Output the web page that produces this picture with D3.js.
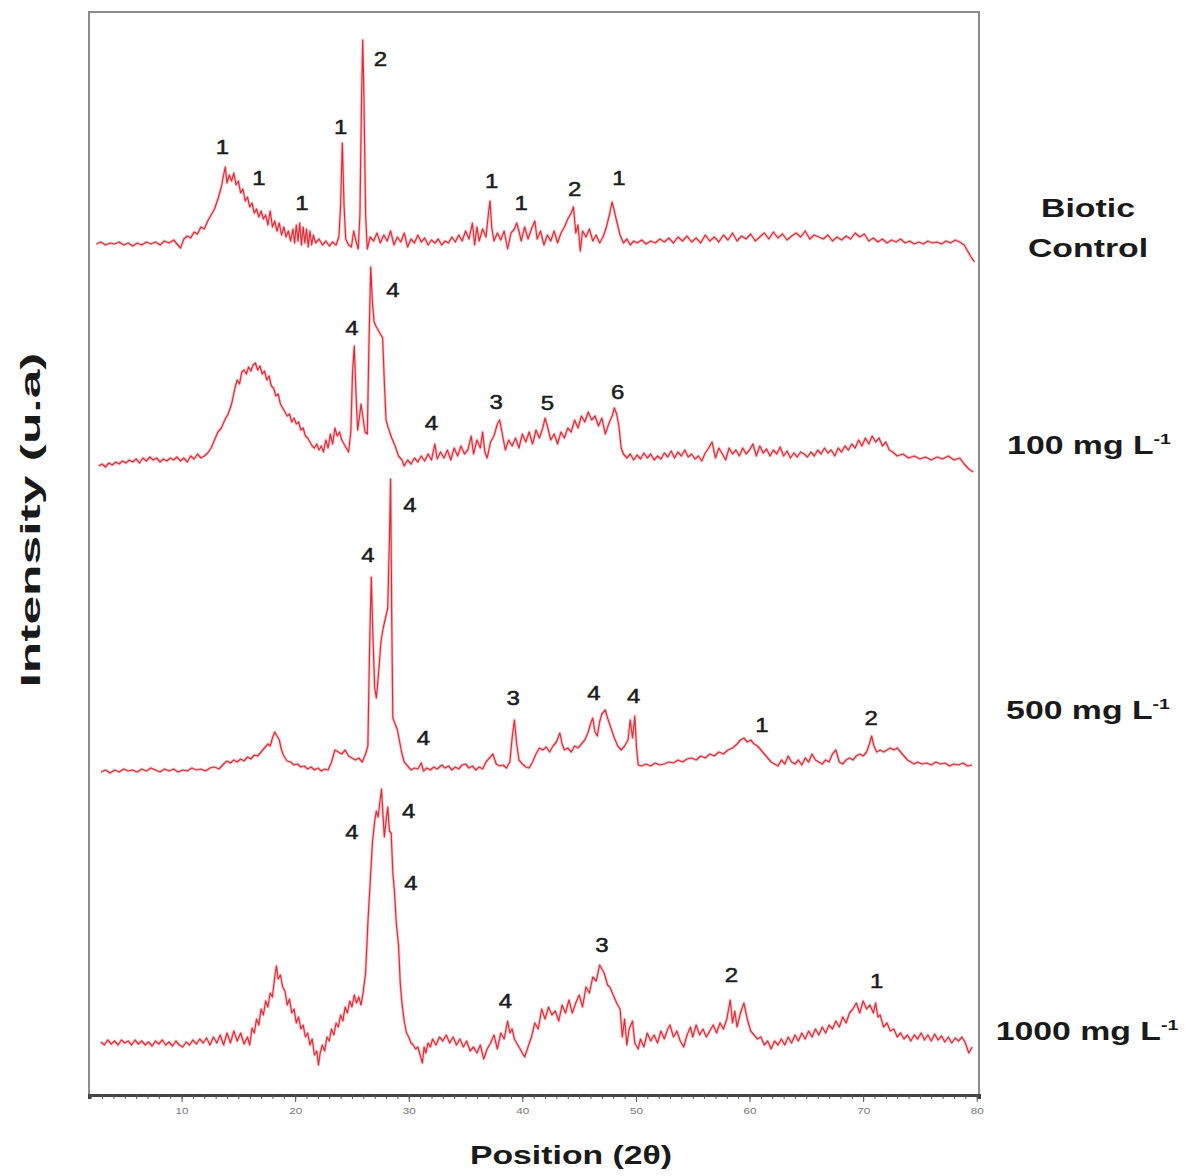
<!DOCTYPE html>
<html>
<head>
<meta charset="utf-8">
<script src="https://cdn.jsdelivr.net/npm/d3@7"></script>
<style>
  body { margin: 0; background: #fff; }
  svg { display: block; font-family: "Liberation Sans", Arial, sans-serif; }
</style>
</head>
<body>
<div id="grafica"></div>
<script>
// XRD patterns. Each point is [2theta, intensity above its own baseline]
var sampleNames = ["Biotic Control", "100 mg L-1", "500 mg L-1", "1000 mg L-1"];
// vertical stacking offset of each pattern (same units as intensity)
var offsets = [850, 633, 327, 52];

var bioticControl = [[2.5,1],[2.9,3],[3.3,0],[3.7,2],[4.1,1],[4.5,3],[4.9,0],[5.3,2],[5.7,-1],[6.1,2],[6.5,0],[6.9,3],[7.3,1],[7.7,3],[8.1,0],[8.5,4],[8.9,2],[9.3,5],[9.6,1],[9.9,-3],[10.2,6],[10.5,9],[10.8,7],[11.1,13],[11.4,11],[11.7,18],[12.0,16],[12.3,24],[12.6,30],[12.9,36],[13.2,46],[13.5,58],[13.7,70],[13.85,78],[14.0,62],[14.2,70],[14.4,64],[14.6,72],[14.8,60],[15.0,64],[15.2,52],[15.4,56],[15.6,44],[15.8,48],[16.0,38],[16.2,42],[16.4,32],[16.6,36],[16.8,28],[17.0,34],[17.2,26],[17.4,30],[17.6,20],[17.8,34],[18.0,18],[18.2,24],[18.4,14],[18.6,22],[18.8,10],[19.0,18],[19.2,8],[19.4,14],[19.6,4],[19.8,16],[19.95,2],[20.1,20],[20.25,4],[20.4,22],[20.55,0],[20.7,18],[20.85,2],[21.0,16],[21.15,-2],[21.3,14],[21.45,0],[21.6,10],[21.8,2],[22.1,6],[22.4,0],[22.7,4],[23.0,-1],[23.3,3],[23.6,0],[23.85,8],[24.0,40],[24.15,102],[24.3,40],[24.45,6],[24.7,0],[24.95,-2],[25.15,14],[25.35,4],[25.55,-4],[25.7,30],[25.85,150],[25.95,205],[26.05,150],[26.2,30],[26.35,-4],[26.6,8],[26.9,4],[27.2,12],[27.5,2],[27.8,10],[28.1,4],[28.4,14],[28.7,0],[29.0,8],[29.3,3],[29.6,12],[29.9,-2],[30.2,6],[30.5,2],[30.8,10],[31.1,3],[31.4,7],[31.7,0],[32.0,5],[32.3,2],[32.6,6],[32.9,0],[33.2,4],[33.5,2],[33.8,8],[34.1,3],[34.4,10],[34.7,4],[35.0,14],[35.3,6],[35.6,22],[35.8,0],[36.0,18],[36.2,4],[36.5,16],[36.8,8],[37.0,30],[37.15,44],[37.3,18],[37.5,4],[37.8,12],[38.1,5],[38.4,14],[38.7,-4],[39.0,12],[39.3,16],[39.5,22],[39.7,14],[39.9,4],[40.2,18],[40.5,6],[40.8,16],[41.1,24],[41.3,6],[41.6,14],[41.9,0],[42.2,10],[42.5,4],[42.8,14],[43.1,2],[43.4,12],[43.7,18],[44.0,26],[44.3,32],[44.5,38],[44.7,12],[44.9,20],[45.1,-6],[45.3,14],[45.6,8],[45.9,16],[46.2,4],[46.5,10],[46.8,2],[47.1,8],[47.4,18],[47.7,32],[47.9,43],[48.1,34],[48.3,24],[48.6,10],[48.9,2],[49.2,6],[49.5,0],[49.8,4],[50.1,2],[50.5,5],[50.9,1],[51.3,4],[51.7,2],[52.1,6],[52.5,3],[52.9,7],[53.3,2],[53.7,8],[54.1,4],[54.5,9],[54.9,3],[55.3,7],[55.7,2],[56.1,10],[56.5,4],[56.9,8],[57.3,3],[57.7,10],[58.1,5],[58.5,12],[58.9,4],[59.3,9],[59.7,6],[60.1,11],[60.5,4],[60.9,8],[61.3,12],[61.7,6],[62.1,13],[62.5,7],[62.9,11],[63.3,5],[63.7,9],[64.1,12],[64.5,8],[64.9,14],[65.3,6],[65.7,10],[66.1,8],[66.5,6],[66.9,10],[67.3,4],[67.7,8],[68.1,5],[68.5,9],[68.9,6],[69.3,12],[69.7,8],[70.1,11],[70.5,4],[70.9,7],[71.3,3],[71.7,6],[72.1,2],[72.5,5],[72.9,3],[73.3,6],[73.7,2],[74.1,4],[74.5,1],[74.9,3],[75.3,1],[75.7,4],[76.1,2],[76.5,3],[76.9,1],[77.3,4],[77.7,2],[78.1,5],[78.5,3],[78.9,0],[79.2,-6],[79.5,-12],[79.8,-17]];

var mg100 = [[2.7,-4],[3.0,-2],[3.3,-5],[3.6,-1],[3.9,-3],[4.2,0],[4.5,-2],[4.8,1],[5.1,-1],[5.4,2],[5.7,0],[6.0,3],[6.3,-1],[6.6,4],[6.9,1],[7.2,5],[7.5,2],[7.8,4],[8.1,0],[8.4,3],[8.7,1],[9.0,4],[9.3,2],[9.6,5],[9.9,1],[10.2,4],[10.5,0],[10.8,6],[11.1,3],[11.4,8],[11.7,4],[12.0,6],[12.3,9],[12.6,14],[12.9,22],[13.2,30],[13.5,34],[13.8,42],[14.1,48],[14.4,58],[14.7,74],[14.9,82],[15.1,78],[15.3,90],[15.5,92],[15.7,88],[15.9,95],[16.1,91],[16.3,97],[16.5,99],[16.7,92],[16.9,96],[17.1,88],[17.3,91],[17.5,82],[17.7,86],[17.9,76],[18.1,74],[18.3,66],[18.5,68],[18.7,58],[18.9,54],[19.1,50],[19.3,46],[19.5,48],[19.7,40],[19.9,44],[20.1,38],[20.3,40],[20.5,32],[20.7,34],[20.9,26],[21.1,24],[21.3,20],[21.5,16],[21.7,14],[21.9,18],[22.1,12],[22.3,16],[22.5,10],[22.7,22],[22.9,14],[23.1,28],[23.3,18],[23.5,34],[23.7,26],[23.9,30],[24.1,22],[24.3,18],[24.5,14],[24.7,10],[24.9,30],[25.05,90],[25.2,116],[25.35,70],[25.5,32],[25.65,44],[25.8,58],[25.95,46],[26.15,30],[26.35,28],[26.5,120],[26.65,195],[26.8,160],[26.95,140],[27.1,136],[27.3,132],[27.5,128],[27.7,124],[27.85,80],[28.0,42],[28.2,34],[28.5,24],[28.8,16],[29.1,6],[29.4,2],[29.6,-4],[29.9,2],[30.2,-2],[30.5,4],[30.8,0],[31.1,6],[31.4,1],[31.7,8],[32.0,2],[32.3,18],[32.5,3],[32.8,10],[33.1,4],[33.4,12],[33.7,2],[34.0,14],[34.3,6],[34.6,16],[34.9,8],[35.2,12],[35.5,26],[35.7,8],[36.0,22],[36.3,14],[36.5,30],[36.7,10],[36.9,4],[37.2,20],[37.5,26],[37.8,38],[38.0,42],[38.2,30],[38.5,12],[38.8,22],[39.1,16],[39.4,24],[39.7,14],[40.0,28],[40.3,20],[40.6,30],[40.9,18],[41.2,32],[41.5,24],[41.8,34],[42.0,44],[42.2,36],[42.5,22],[42.8,28],[43.1,18],[43.4,30],[43.7,24],[44.0,34],[44.3,30],[44.6,42],[44.9,34],[45.2,46],[45.5,40],[45.8,50],[46.1,42],[46.4,46],[46.7,36],[47.0,44],[47.3,28],[47.6,38],[47.9,46],[48.1,54],[48.3,48],[48.5,36],[48.7,14],[48.9,8],[49.2,4],[49.5,8],[49.8,2],[50.1,7],[50.4,3],[50.7,9],[51.0,4],[51.3,8],[51.6,2],[51.9,6],[52.2,3],[52.5,9],[52.8,5],[53.1,11],[53.4,4],[53.7,10],[54.0,6],[54.3,12],[54.6,5],[54.9,8],[55.2,3],[55.5,6],[55.8,1],[56.1,9],[56.4,14],[56.7,20],[57.0,4],[57.3,14],[57.6,8],[57.9,2],[58.2,14],[58.5,8],[58.8,12],[59.1,6],[59.4,14],[59.7,8],[60.0,12],[60.3,18],[60.6,6],[60.9,16],[61.2,9],[61.5,13],[61.8,6],[62.1,12],[62.4,8],[62.7,15],[63.0,6],[63.3,11],[63.6,4],[63.9,9],[64.2,5],[64.5,10],[64.8,8],[65.1,5],[65.4,10],[65.7,6],[66.0,12],[66.3,8],[66.6,14],[66.9,9],[67.2,12],[67.5,6],[67.8,14],[68.1,10],[68.4,16],[68.7,12],[69.0,18],[69.3,14],[69.6,22],[69.9,16],[70.2,24],[70.5,18],[70.8,26],[71.1,20],[71.4,24],[71.7,16],[72.0,20],[72.3,12],[72.6,10],[73.0,6],[73.5,8],[74.0,4],[74.5,6],[75.0,3],[75.5,5],[76.0,2],[76.5,5],[77.0,3],[77.5,6],[78.0,2],[78.5,4],[78.9,-2],[79.3,-7],[79.7,-10]];

var mg500 = [[2.9,-4],[3.3,-2],[3.7,-5],[4.1,-2],[4.5,-4],[4.9,-1],[5.3,-3],[5.7,-2],[6.1,-4],[6.5,-1],[6.9,-3],[7.3,0],[7.7,-2],[8.1,-4],[8.5,-1],[8.9,-3],[9.3,-1],[9.7,-4],[10.1,-2],[10.5,-3],[10.9,0],[11.3,-2],[11.7,-1],[12.1,-3],[12.5,0],[12.9,1],[13.3,-1],[13.7,4],[14.0,7],[14.3,5],[14.6,8],[14.9,6],[15.2,9],[15.5,7],[15.8,11],[16.1,9],[16.4,13],[16.7,12],[17.0,16],[17.3,20],[17.6,24],[17.8,22],[18.0,30],[18.2,36],[18.4,32],[18.6,28],[18.8,18],[19.0,12],[19.3,7],[19.6,6],[19.9,3],[20.2,4],[20.5,1],[20.8,2],[21.1,-1],[21.4,1],[21.7,-2],[22.0,0],[22.3,-3],[22.6,-1],[22.9,-2],[23.2,6],[23.5,18],[23.8,16],[24.1,14],[24.4,18],[24.7,12],[25.0,10],[25.3,8],[25.6,10],[25.9,6],[26.2,14],[26.4,22],[26.55,120],[26.7,191],[26.85,130],[27.0,80],[27.15,70],[27.35,96],[27.55,126],[27.75,140],[27.95,150],[28.15,160],[28.3,230],[28.4,289],[28.5,150],[28.6,50],[28.8,44],[29.0,38],[29.2,26],[29.4,14],[29.6,6],[29.9,2],[30.2,-2],[30.5,0],[30.8,-1],[31.1,5],[31.3,-3],[31.6,0],[31.9,-2],[32.2,1],[32.5,-1],[32.9,3],[33.2,0],[33.5,2],[33.8,-2],[34.1,1],[34.4,-1],[34.7,3],[35.0,4],[35.3,0],[35.6,2],[35.9,-2],[36.2,1],[36.5,-1],[36.8,6],[37.1,10],[37.4,14],[37.7,4],[38.0,2],[38.3,3],[38.6,0],[38.9,6],[39.1,30],[39.3,48],[39.5,24],[39.7,8],[40.0,4],[40.3,1],[40.6,0],[40.9,6],[41.2,14],[41.5,20],[41.8,18],[42.1,21],[42.4,16],[42.7,22],[43.0,26],[43.3,35],[43.5,24],[43.7,18],[44.0,20],[44.3,16],[44.6,22],[44.9,20],[45.2,24],[45.5,28],[45.8,36],[46.0,44],[46.2,50],[46.4,36],[46.6,32],[46.8,46],[47.0,54],[47.3,58],[47.5,50],[47.8,40],[48.1,30],[48.4,22],[48.7,18],[49.0,22],[49.3,28],[49.5,48],[49.7,30],[49.9,52],[50.05,20],[50.2,3],[50.5,2],[50.9,4],[51.3,2],[51.7,5],[52.1,3],[52.5,4],[52.9,6],[53.3,5],[53.7,8],[54.1,6],[54.5,9],[54.9,10],[55.3,8],[55.7,12],[56.1,10],[56.5,14],[56.9,12],[57.3,16],[57.7,14],[58.1,18],[58.5,20],[58.9,24],[59.2,28],[59.5,30],[59.8,26],[60.1,28],[60.4,24],[60.7,22],[61.0,18],[61.3,14],[61.6,10],[61.9,6],[62.2,4],[62.5,2],[62.8,8],[63.1,4],[63.4,12],[63.7,6],[64.0,4],[64.3,8],[64.6,3],[64.9,10],[65.2,6],[65.5,14],[65.8,8],[66.1,6],[66.4,4],[66.7,8],[67.0,6],[67.3,14],[67.6,18],[67.9,6],[68.2,4],[68.5,8],[68.8,10],[69.1,8],[69.4,12],[69.7,14],[70.0,12],[70.3,16],[70.55,24],[70.75,32],[70.95,22],[71.2,16],[71.5,18],[71.8,16],[72.1,18],[72.4,20],[72.7,18],[73.0,20],[73.3,16],[73.6,12],[73.9,8],[74.2,6],[74.5,4],[74.8,6],[75.2,4],[75.6,5],[76.0,3],[76.4,6],[76.8,4],[77.2,5],[77.6,2],[78.0,4],[78.4,3],[78.8,5],[79.2,2],[79.6,3]];

var mg1000 = [[2.9,1],[3.2,-2],[3.5,3],[3.8,-1],[4.1,2],[4.4,-2],[4.7,3],[5.0,0],[5.3,2],[5.6,-2],[5.9,3],[6.2,-1],[6.5,2],[6.8,-2],[7.1,1],[7.4,-3],[7.7,2],[8.0,-1],[8.3,3],[8.6,-2],[8.9,1],[9.2,-3],[9.5,2],[9.8,-2],[10.1,-4],[10.4,1],[10.7,-2],[11.0,3],[11.3,-1],[11.6,4],[11.9,0],[12.2,5],[12.5,-2],[12.8,6],[13.1,0],[13.4,8],[13.7,-2],[14.0,10],[14.3,0],[14.6,12],[14.9,2],[15.2,10],[15.5,-1],[15.8,6],[16.0,-2],[16.2,15],[16.4,10],[16.6,24],[16.8,18],[17.0,34],[17.2,28],[17.4,42],[17.6,36],[17.8,50],[18.0,46],[18.2,66],[18.35,77],[18.5,64],[18.7,68],[18.9,56],[19.1,52],[19.3,38],[19.5,44],[19.7,30],[19.9,34],[20.1,20],[20.3,26],[20.5,14],[20.7,18],[20.9,6],[21.1,10],[21.3,-2],[21.5,4],[21.7,-12],[21.9,-8],[22.05,-22],[22.2,-10],[22.4,-2],[22.6,-8],[22.8,6],[23.0,2],[23.2,14],[23.4,8],[23.6,20],[23.8,16],[24.0,28],[24.2,22],[24.4,36],[24.6,30],[24.8,42],[25.0,36],[25.2,48],[25.4,40],[25.6,46],[25.8,38],[26.0,52],[26.2,70],[26.4,120],[26.6,160],[26.8,200],[27.0,222],[27.15,232],[27.3,226],[27.45,240],[27.6,254],[27.7,234],[27.85,206],[28.0,222],[28.15,236],[28.3,212],[28.45,210],[28.6,170],[28.75,150],[28.9,120],[29.1,98],[29.25,60],[29.4,40],[29.6,22],[29.8,10],[30.0,6],[30.2,0],[30.4,-2],[30.6,-6],[30.8,-4],[31.0,-12],[31.2,-20],[31.35,-4],[31.5,-10],[31.7,0],[31.9,-4],[32.1,4],[32.4,-2],[32.7,6],[33.0,2],[33.3,8],[33.6,0],[33.9,6],[34.2,-2],[34.5,4],[34.8,-4],[35.1,2],[35.4,-8],[35.7,-4],[36.0,-10],[36.3,-2],[36.6,-16],[36.9,-6],[37.2,0],[37.5,8],[37.8,-6],[38.1,10],[38.4,4],[38.7,22],[38.9,10],[39.1,14],[39.3,4],[39.6,-2],[39.9,-8],[40.2,-14],[40.5,-4],[40.8,6],[41.1,20],[41.4,14],[41.7,34],[42.0,24],[42.3,36],[42.6,28],[42.9,32],[43.2,22],[43.5,38],[43.8,30],[44.1,43],[44.4,30],[44.7,40],[45.0,48],[45.3,36],[45.6,56],[45.9,50],[46.2,66],[46.5,62],[46.8,78],[47.0,74],[47.2,70],[47.5,58],[47.7,56],[48.0,48],[48.3,40],[48.6,34],[48.8,6],[49.0,24],[49.2,-2],[49.4,14],[49.7,22],[49.9,0],[50.2,-6],[50.4,4],[50.7,-4],[51.0,10],[51.3,2],[51.6,8],[51.9,0],[52.2,12],[52.5,4],[52.8,14],[53.0,18],[53.3,6],[53.6,12],[53.9,2],[54.2,-4],[54.5,8],[54.8,16],[55.0,6],[55.3,18],[55.6,8],[55.9,14],[56.2,6],[56.5,12],[56.8,18],[57.1,10],[57.4,20],[57.7,14],[58.0,24],[58.3,43],[58.5,20],[58.7,32],[58.9,16],[59.2,30],[59.5,40],[59.8,24],[60.1,12],[60.4,8],[60.7,4],[61.0,6],[61.3,-2],[61.6,2],[61.9,-6],[62.2,2],[62.5,-2],[62.8,4],[63.1,-2],[63.4,6],[63.7,0],[64.0,8],[64.3,2],[64.6,10],[64.9,4],[65.2,12],[65.5,6],[65.8,14],[66.1,8],[66.4,16],[66.7,10],[67.0,18],[67.3,14],[67.6,22],[67.9,16],[68.2,26],[68.5,20],[68.8,30],[69.1,34],[69.4,40],[69.7,30],[70.0,42],[70.3,34],[70.6,38],[70.9,30],[71.1,40],[71.3,26],[71.5,28],[71.8,16],[72.1,20],[72.4,12],[72.7,14],[73.0,6],[73.3,10],[73.6,4],[73.9,8],[74.2,2],[74.5,8],[74.8,4],[75.1,10],[75.4,3],[75.7,8],[76.0,2],[76.3,9],[76.6,3],[76.9,7],[77.2,1],[77.5,6],[77.8,0],[78.1,5],[78.4,2],[78.7,6],[79.0,0],[79.3,-10],[79.6,-4]];

// peak labels: [2theta, height above the baseline, phase number]
var peaksBiotic = [[13.6,98,"1"],[16.8,67,"1"],[20.6,42,"1"],[24.0,118,"1"],[27.5,186,"2"],[37.3,64,"1"],[39.9,42,"1"],[44.6,56,"2"],[48.5,67,"1"]];
var peaks100 = [[25.0,134,"4"],[28.6,172,"4"],[32.0,39,"4"],[37.7,60,"3"],[42.2,59,"5"],[48.4,70,"6"]];
var peaks500 = [[26.4,213,"4"],[30.1,263,"4"],[31.3,30,"4"],[39.2,70,"3"],[46.3,75,"4"],[49.8,72,"4"],[61.1,43,"1"],[70.7,50,"2"]];
var peaks1000 = [[25.0,211,"4"],[30.0,232,"4"],[30.2,160,"4"],[38.5,42,"4"],[47.0,98,"3"],[58.4,68,"2"],[71.2,62,"1"]];

var xTicks = [10, 20, 30, 40, 50, 60, 70, 80];

var patterns = [bioticControl, mg100, mg500, mg1000];
var peakSets = [peaksBiotic, peaks100, peaks500, peaks1000];

var width = 1188, height = 1176;
var stretch = 1.3; // the original figure is widened, text included

var svg = d3.select("#grafica")
    .append("svg")
    .attr("width", width)
    .attr("height", height);

var x = d3.scaleLinear().domain([1.85, 80.2]).range([89, 979]);
var y = d3.scaleLinear().domain([0, 1083]).range([1095, 12]);

// frame around the plot
svg.append("rect")
  .attr("x", 89).attr("y", 12)
  .attr("width", 890).attr("height", 1083)
  .attr("fill", "none")
  .attr("stroke", "#8c8c8c")
  .attr("stroke-width", 2);

// minor ticks every degree
var minor = d3.axisBottom(x).tickValues(d3.range(2, 81)).tickSize(4).tickFormat("");
svg.append("g")
  .attr("transform", "translate(0,1095)")
  .call(minor)
  .call(g => g.selectAll("line").attr("stroke", "#555"))
  .call(g => g.select(".domain").attr("stroke", "#444").attr("stroke-width", 3));

var xAxis = d3.axisBottom(x).tickValues(xTicks).tickSize(7).tickPadding(6);
svg.append("g")
  .attr("transform", "translate(0,1095)")
  .call(xAxis)
  .call(g => g.select(".domain").remove())
  .call(g => g.selectAll("line").attr("stroke", "#555"))
  .call(g => g.selectAll("text")
    .attr("font-size", 9)
    .attr("fill", "#777")
    .attr("transform", "scale(" + stretch + ",1)"));

// the patterns
var line = d3.line()
  .x(d => x(d[0]))
  .y(d => y(d[1]));

patterns.forEach(function (serie, i) {
  var pts = serie.map(d => [d[0], d[1] + offsets[i]]);
  svg.append("path")
    .attr("d", line(pts))
    .attr("fill", "none")
    .attr("stroke", "#f3a3a8")
    .attr("stroke-width", 3)
    .attr("stroke-opacity", 0.6)
    .attr("stroke-linejoin", "round");
  svg.append("path")
    .attr("d", line(pts))
    .attr("fill", "none")
    .attr("stroke", "#dc2d38")
    .attr("stroke-width", 1.2)
    .attr("stroke-linejoin", "round");
});

// peak numbers
peakSets.forEach(function (peaks, i) {
  svg.append("g").selectAll("text")
    .data(peaks)
    .join("text")
    .attr("transform", d => "translate(" + x(d[0]) + "," + y(d[1] + offsets[i]) + ") scale(1.2,1)")
    .attr("text-anchor", "middle")
    .attr("dy", "0.35em")
    .attr("font-size", 20)
    .attr("fill", "#1c1c1c")
    .attr("stroke", "#1c1c1c")
    .attr("stroke-width", 0.5)
    .text(d => d[2]);
});

// sample names on the right
function sampleLabel(lines, cx, baseY) {
  lines.forEach(function (txt, k) {
    var t = svg.append("text")
      .attr("transform", "translate(" + cx + "," + (baseY + k * 40) + ") scale(" + stretch + ",1)")
      .attr("text-anchor", "middle")
      .attr("font-size", 26)
      .attr("font-weight", "bold")
      .attr("fill", "#1a1a1a");
    var m = txt.match(/^(.*) L-1$/);
    if (m) {
      t.append("tspan").text(m[1] + " L");
      t.append("tspan").attr("font-size", 15).attr("dy", -10).text("-1");
    } else {
      t.text(txt);
    }
  });
}
sampleLabel(["Biotic", "Control"], 1088, 217);
sampleLabel([sampleNames[1]], 1089, 454);
sampleLabel([sampleNames[2]], 1088, 719);
sampleLabel([sampleNames[3]], 1087, 1040);

// axis titles
svg.append("text")
  .attr("transform", "translate(571,1164) scale(" + stretch + ",1)")
  .attr("text-anchor", "middle")
  .attr("font-size", 26)
  .attr("font-weight", "bold")
  .attr("fill", "#1a1a1a")
  .text("Position (2θ)");

svg.append("text")
  .attr("transform", "translate(40,520) rotate(-90)")
  .attr("x", 0)
  .attr("text-anchor", "middle")
  .attr("font-size", 27)
  .attr("font-weight", "bold")
  .attr("fill", "#1a1a1a")
  .attr("textLength", 335)
  .attr("lengthAdjust", "spacingAndGlyphs")
  .text("Intensity (u.a)");
</script>
</body>
</html>
